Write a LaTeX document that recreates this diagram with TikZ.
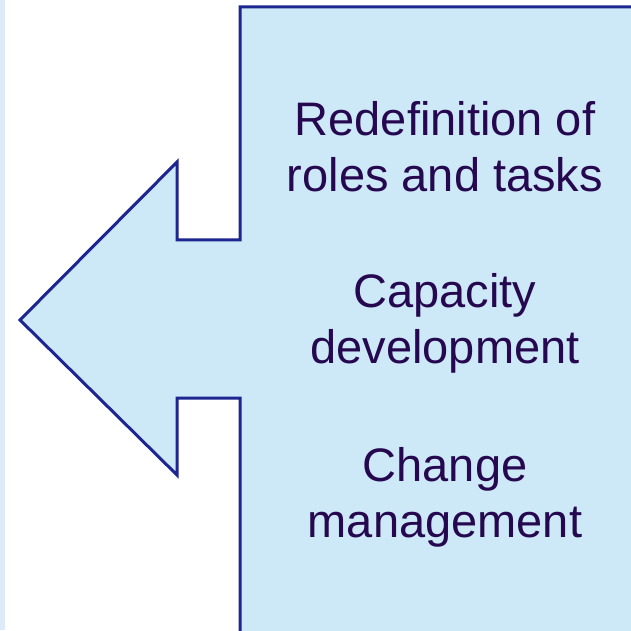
\documentclass[tikz,border=0pt]{standalone}
\usepackage{fontspec}
\setmainfont{Liberation Sans}
\definecolor{arrowfill}{HTML}{CDE8F6}
\definecolor{arrowline}{HTML}{1C2590}
\definecolor{strip}{HTML}{DDEBF8}
\definecolor{textcol}{HTML}{25084F}
\begin{document}
\begin{tikzpicture}[x=1pt,y=1pt,
  label/.style={anchor=base, align=center, text=textcol, inner sep=0pt,
    font=\fontsize{47}{56}\selectfont}]
\useasboundingbox (0,0) rectangle (631,630);
\clip (0,0) rectangle (631,630);
\fill[white] (0,0) rectangle (631,630);
\fill[strip] (0,0) rectangle (5,630);
% left-pointing block arrow
\draw[fill=arrowfill, draw=arrowline, line width=3pt, line join=miter]
  (645,623) -- (240,623) -- (240,390) -- (177,390) -- (177,468)
  -- (20,310) -- (177,155) -- (177,232) -- (240,232) -- (240,-10)
  -- (645,-10) -- cycle;
% base anchor sits on the last line of each block
\node[label] (roles) at (445,438) {Redefinition of\\roles and tasks};
\node[label] (capacity) at (445,267) {Capacity\\development};
\node[label] (change) at (445,93) {Change\\management};
\end{tikzpicture}
\end{document}
